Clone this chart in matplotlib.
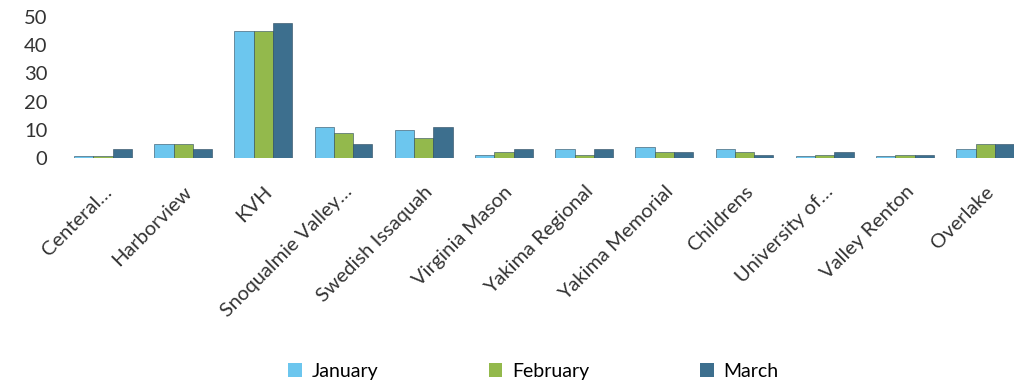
import numpy as np
import matplotlib.pyplot as plt
from matplotlib.patches import Patch

plt.rcParams["font.family"] = ["Lato", "DejaVu Sans"]

hospitals = ["Centeral…", "Harborview", "KVH", "Snoqualmie Valley…", "Swedish Issaquah",
             "Virginia Mason", "Yakima Regional", "Yakima Memorial", "Childrens",
             "University of…", "Valley Renton", "Overlake"]
january = [0.5, 5, 45, 11, 10, 1, 3, 4, 3, 0.5, 0.5, 3]
february = [0.5, 5, 45, 9, 7, 2, 1, 2, 2, 1, 1, 5]
march = [3, 3, 48, 5, 11, 3, 3, 2, 1, 2, 1, 5]
months = ["January", "February", "March"]
colors = ["#6cc6ee", "#93b94c", "#3d6f8e"]

fig = plt.figure(figsize=(10.14, 3.87), dpi=100)
ax = fig.add_axes([0.062, 0.592, 0.938, 0.364])

x = np.arange(len(hospitals))
w = 0.24
for k, (vals, c) in enumerate(zip([january, february, march], colors)):
    ax.bar(x + (k - 1) * w, vals, w, color=c, edgecolor="#2a4a5e", linewidth=0.4)

ax.set_xlim(-0.5, 11.36)
ax.set_ylim(0, 50)
ax.set_yticks(range(0, 51, 10))
ax.set_xticks(x)
ax.set_xticklabels(hospitals, rotation=45, ha="right", rotation_mode="anchor")
ax.tick_params(length=0, labelsize=14.5, colors="#333333")
ax.tick_params(axis="x", pad=18)
ax.tick_params(axis="y", pad=11)
for s in ax.spines.values():
    s.set_visible(False)

handles = [Patch(facecolor=c, label=m) for c, m in zip(colors, months)]
fig.legend(handles=handles, loc="center", bbox_to_anchor=(0.526, 0.04), ncol=3,
           frameon=False, fontsize=14, columnspacing=5.7, handlelength=0.7,
           handleheight=0.7, handletextpad=0.5)

fig.savefig("out.png", dpi=100)
